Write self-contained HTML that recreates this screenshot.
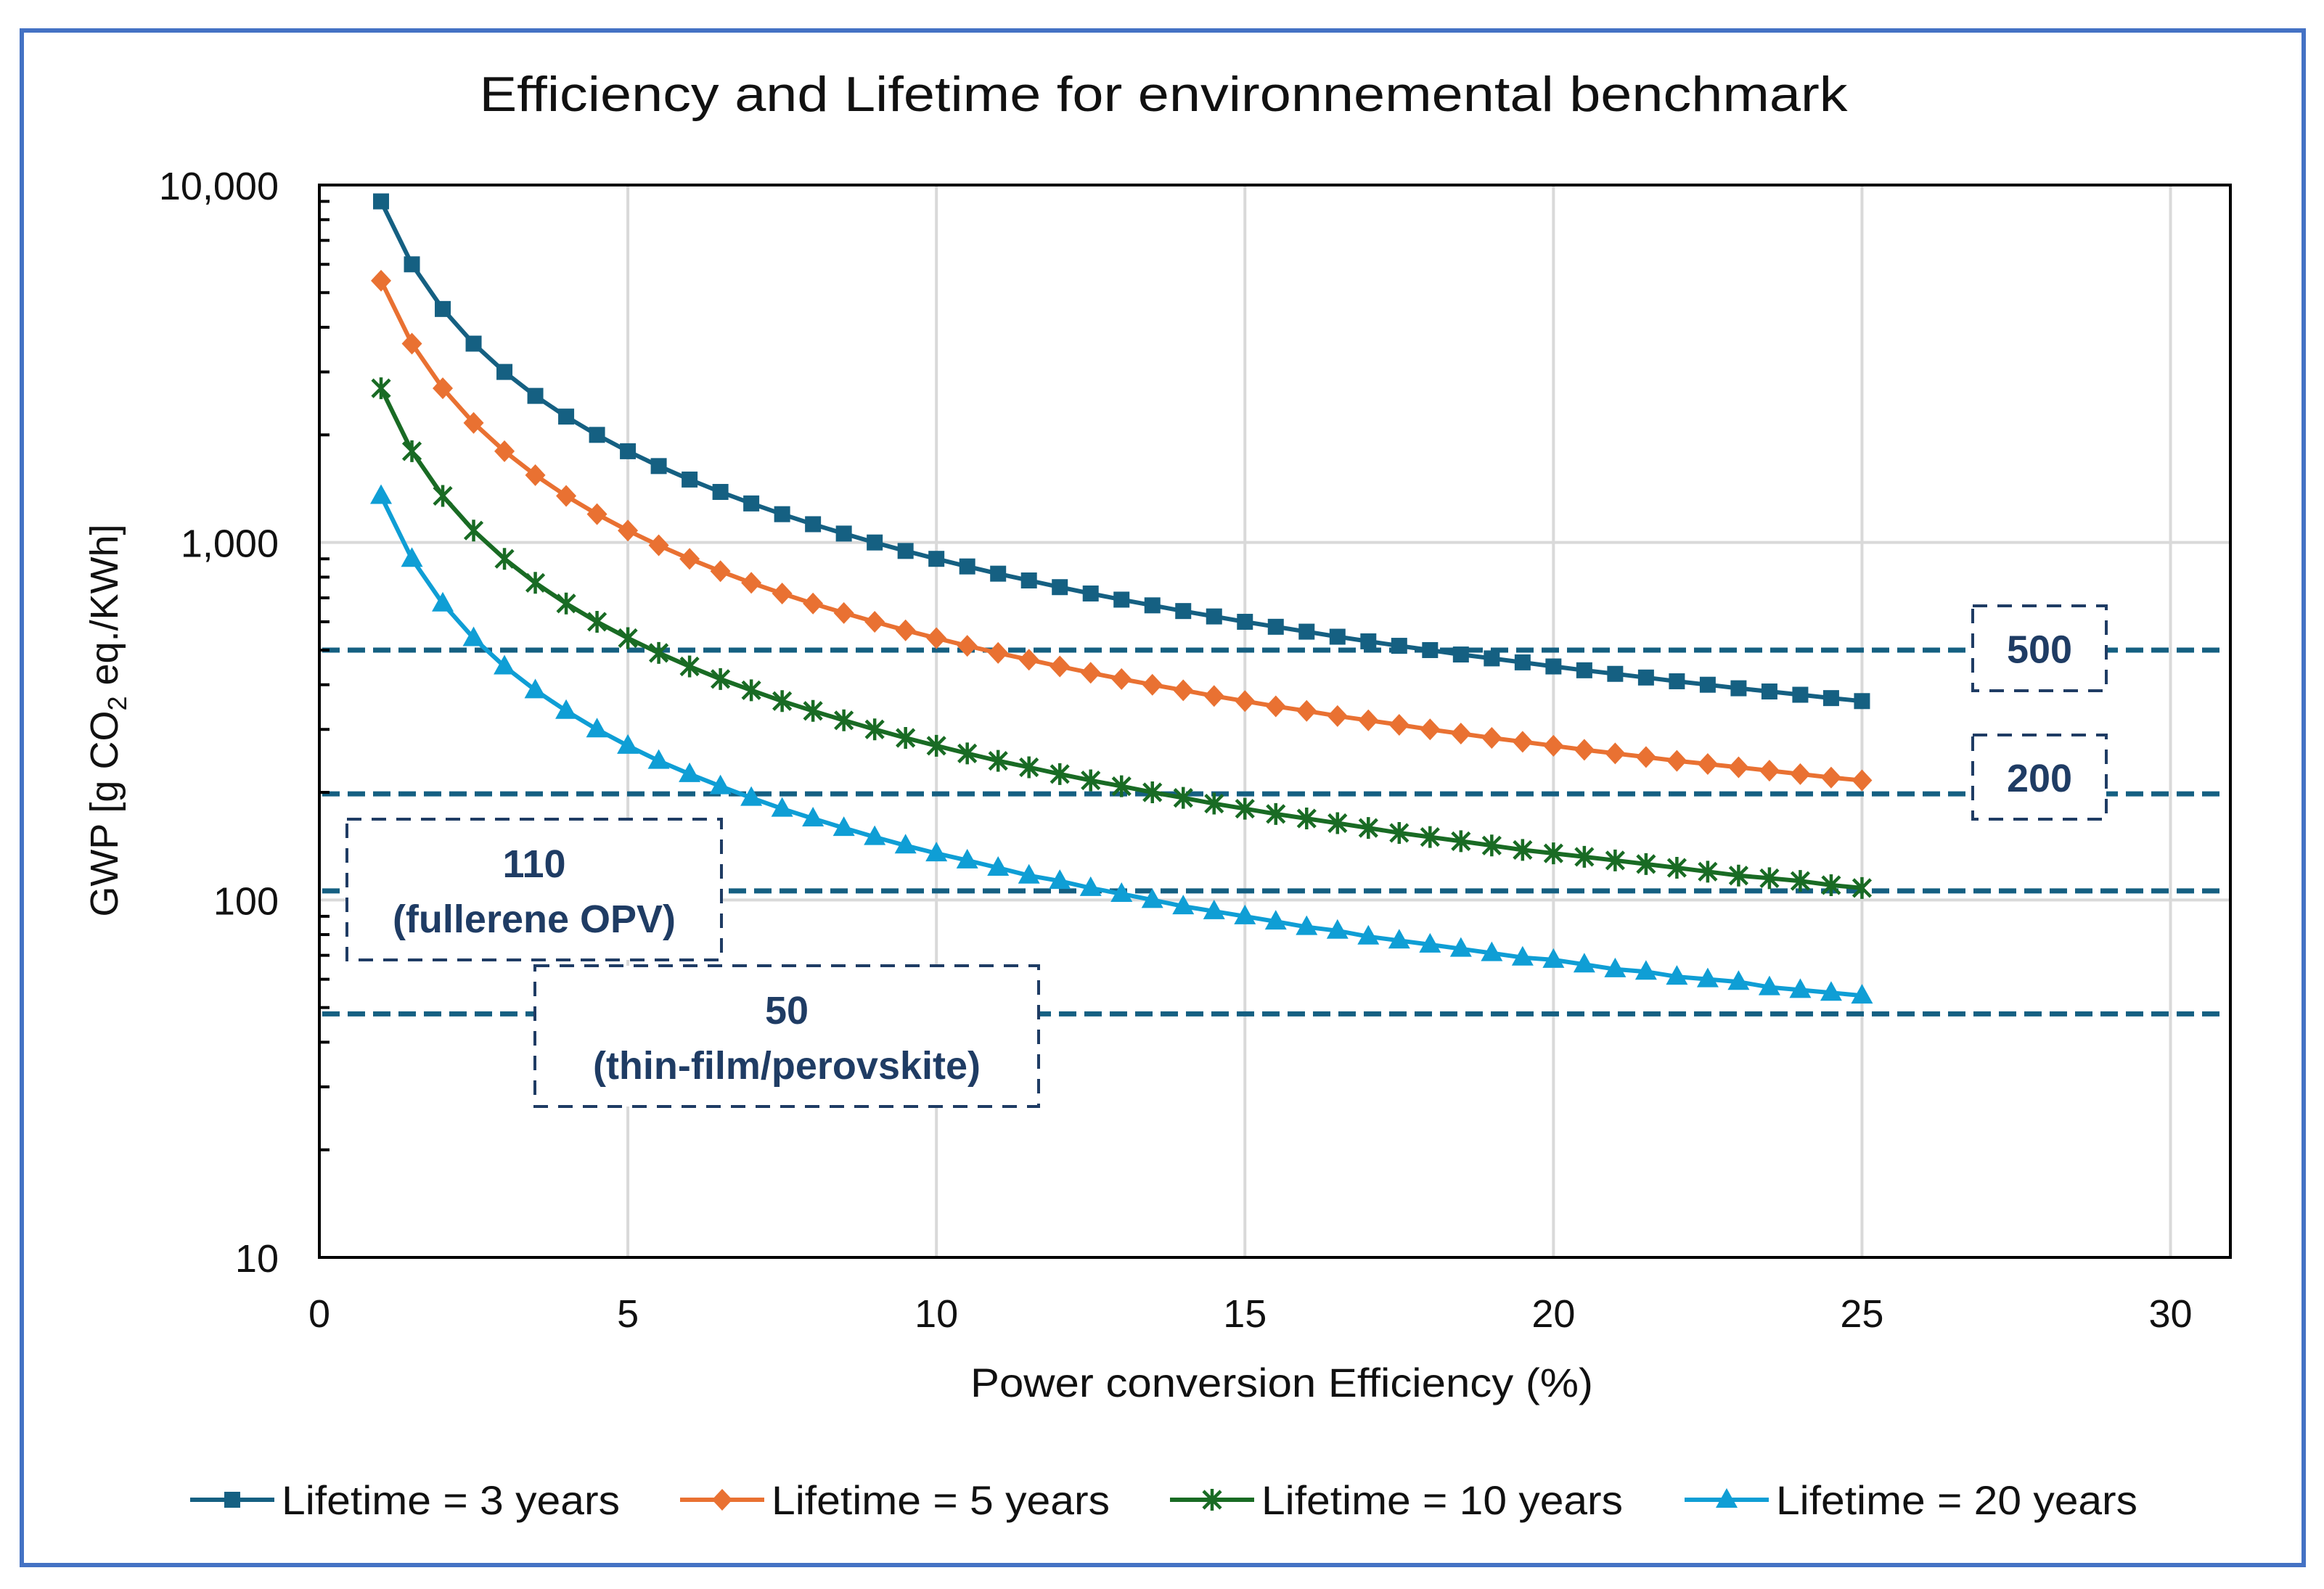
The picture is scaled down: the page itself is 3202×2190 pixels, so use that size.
<!DOCTYPE html>
<html><head><meta charset="utf-8"><style>
html,body{margin:0;padding:0;background:#fff;}
svg{display:block;font-family:"Liberation Sans",Arial,sans-serif;}
</style></head><body>
<svg id="chart" width="3202" height="2190" viewBox="0 0 3202 2190" xmlns="http://www.w3.org/2000/svg">
<rect x="0" y="0" width="3202" height="2190" fill="#fff"/>
<rect x="30" y="42" width="3144" height="2115" fill="none" stroke="#4472C4" stroke-width="6"/>
<text x="1603" y="153" font-size="68" text-anchor="middle" fill="#111" textLength="1885" lengthAdjust="spacingAndGlyphs">Efficiency and Lifetime for environnemental benchmark</text>
<g id="grid"></g>
<g id="refs"></g>
<g id="boxes"></g>
<g id="series"></g>
<g id="axes"></g>
<text x="1766" y="1925" font-size="56" text-anchor="middle" fill="#111" textLength="858" lengthAdjust="spacingAndGlyphs">Power conversion Efficiency (%)</text>
<text transform="translate(162,993) rotate(-90)" font-size="54" text-anchor="middle" fill="#111">GWP [g CO<tspan font-size="36" dy="12">2</tspan><tspan dy="-12"> eq./KWh]</tspan></text>
<g id="legend"></g>
</svg>
<script>
const efficiency=[1,1.5,2,2.5,3,3.5,4,4.5,5,5.5,6,6.5,7,7.5,8,8.5,9,9.5,10,10.5,11,11.5,12,12.5,13,13.5,14,14.5,15,15.5,16,16.5,17,17.5,18,18.5,19,19.5,20,20.5,21,21.5,22,22.5,23,23.5,24,24.5,25];
const life3=[9000,6000,4500,3600,3000,2571,2250,2000,1800,1636,1500,1385,1286,1200,1125,1059,1000,947,900,857,818,783,750,720,692,667,643,621,600,581,563,545,529,514,500,486,474,462,450,439,429,419,409,400,391,383,375,367,360];
const life5=[5400,3600,2700,2160,1800,1543,1350,1200,1080,982,900,831,771,720,675,635,600,568,540,514,491,470,450,432,415,400,386,372,360,348,338,327,318,309,300,292,284,277,270,263,257,251,245,240,235,230,225,220,216];
const life10=[2700,1800,1350,1080,900,771,675,600,540,491,450,415,386,360,338,318,300,284,270,257,245,235,225,216,208,200,193,186,180,174,169,164,159,154,150,146,142,138,135,132,129,126,123,120,117,115,113,110,108];
const life20=[1350,900,675,540,450,386,338,300,270,245,225,208,193,180,169,159,150,142,135,129,123,117,113,108,104,100,96,93,90,87,84,82,79,77,75,73,71,69,68,66,64,63,61,60,59,57,56,55,54];
const seriesNames=["Lifetime = 3 years","Lifetime = 5 years","Lifetime = 10 years","Lifetime = 20 years"];
const xTicks=[0,5,10,15,20,25,30];
const yTicks=[10,100,1000,10000];
const yTickLabels=["10","100","1,000","10,000"];
const refValues=[500,198,106,48];
const refLabels=[["500"],["200"],["110","(fullerene OPV)"],["50","(thin-film/perovskite)"]];

const NS="http://www.w3.org/2000/svg";
const L=440,R=3073,T=255,B=1733,XMAX=30.97;
function xs(v){return L+(R-L)*v/XMAX;}
function ys(v){return B-(B-T)*(Math.log10(v)-1)/3;}
function mk(tag,attrs,parent){const e=document.createElementNS(NS,tag);for(const k in attrs)e.setAttribute(k,attrs[k]);parent.appendChild(e);return e;}
const grid=document.getElementById('grid'),axes=document.getElementById('axes'),refs=document.getElementById('refs'),boxes=document.getElementById('boxes'),ser=document.getElementById('series'),leg=document.getElementById('legend');

xTicks.forEach(t=>{
  if(t>0){const g=mk('line',{x1:xs(t),x2:xs(t),y1:T,y2:B,stroke:'#d9d9d9','stroke-width':4},grid);
  
  }
  const tx=mk('text',{x:xs(t),y:B+96,'font-size':54,'text-anchor':'middle',fill:'#111'},axes);
  tx.textContent=t;
  
  
});
yTicks.forEach((t,i)=>{
  if(t>10&&t<10000){const g=mk('line',{x1:L,x2:R,y1:ys(t),y2:ys(t),stroke:'#d9d9d9','stroke-width':4},grid);
  
  }
  const tx=mk('text',{x:L-56,y:ys(t)+20,'font-size':54,'text-anchor':'end',fill:'#111'},axes);
  tx.textContent=yTickLabels[i];
  
  
});
for(let d=10;d<10000;d*=10){for(let m=2;m<=9;m++){
  const tk=mk('line',{x1:L,x2:L+14,y1:ys(d*m),y2:ys(d*m),stroke:'#000','stroke-width':4},axes);
  
  
}}
const frame=mk('rect',{x:L,y:T,width:R-L,height:B-T,fill:'none',stroke:'#000','stroke-width':4},axes);



refValues.forEach(v=>{
  const l=mk('line',{x1:L+4,x2:R-4,y1:ys(v),y2:ys(v),stroke:'#156082','stroke-width':7,'stroke-dasharray':'24 11'},refs);
  
  
});
const boxGeom=[[2718,835,184,117],[2718,1013,184,116],[478,1129,516,194],[737,1331,694,194]];
boxGeom.forEach((b,i)=>{
  const r=mk('rect',{x:b[0],y:b[1],width:b[2],height:b[3],fill:'#fff',stroke:'#1f3c64','stroke-width':4,'stroke-dasharray':'20 14'},boxes);
  
  
  const lines=refLabels[i];
  lines.forEach((s,j)=>{
    const cy=lines.length===1?b[1]+b[3]/2+20:b[1]+80+j*76;
    const t=mk('text',{x:b[0]+b[2]/2,y:cy,'font-size':54,'font-weight':'bold','text-anchor':'middle',fill:'#1f3c64'},boxes);
    t.textContent=s;
    
    
  });
});

const colors=['#156082','#E97132','#196B24','#0F9ED5'];
const shapes=['square','diamond','star','triangle'];
function marker(shape,x,y,c,parent){
  let e;
  if(shape==='square')e=mk('rect',{x:x-11,y:y-11,width:22,height:22,fill:c},parent);
  else if(shape==='diamond')e=mk('polygon',{points:`${x},${y-15} ${x+14},${y} ${x},${y+15} ${x-14},${y}`,fill:c},parent);
  else if(shape==='triangle')e=mk('polygon',{points:`${x},${y-16} ${x+15},${y+11} ${x-15},${y+11}`,fill:c},parent);
  else e=mk('path',{d:`M${x-12},${y-12}L${x+12},${y+12}M${x-12},${y+12}L${x+12},${y-12}M${x},${y-15}L${x},${y+15}`,stroke:c,'stroke-width':4.5,fill:'none'},parent);
  return e;
}
[life3,life5,life10,life20].forEach((arr,si)=>{
  const g=mk('g',{},ser);
  
  
  const pts=arr.map((v,i)=>xs(efficiency[i]).toFixed(1)+','+ys(v).toFixed(1)).join(' ');
  const pl=mk('polyline',{points:pts,fill:'none',stroke:colors[si],'stroke-width':6,'stroke-linejoin':'round'},g);
  
  
  arr.forEach((v,i)=>{
    const m=marker(shapes[si],xs(efficiency[i]),ys(v),colors[si],g);
    
    
  });
});

const legX=[262,937,1612,2321];
seriesNames.forEach((n,i)=>{
  const g=mk('g',{},leg);
  
  
  const y=2067,x=legX[i];
  mk('line',{x1:x,x2:x+116,y1:y,y2:y,stroke:colors[i],'stroke-width':6},g);
  marker(shapes[i],x+58,y,colors[i],g);
  const t=mk('text',{x:x+126,y:y+20,'font-size':56,fill:'#111',textLength:i<2?466:498,lengthAdjust:'spacingAndGlyphs'},g);
  t.textContent=n;
});
</script>
</body></html>
